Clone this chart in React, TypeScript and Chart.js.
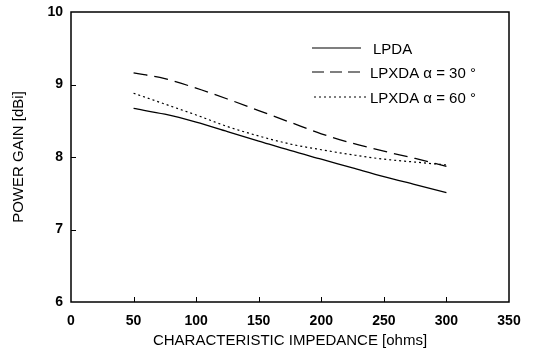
import React, { useEffect, useRef } from "react";
import { Chart, registerables } from "chart.js";

Chart.register(...registerables);

const impedance = [50, 75, 100, 125, 150, 175, 200, 225, 250, 275, 300];
const lpda = [8.67, 8.59, 8.48, 8.35, 8.22, 8.09, 7.97, 7.85, 7.73, 7.62, 7.51];
const lpxda30 = [9.16, 9.08, 8.95, 8.8, 8.64, 8.48, 8.32, 8.19, 8.08, 7.98, 7.87];
const lpxda60 = [8.88, 8.73, 8.58, 8.42, 8.29, 8.18, 8.1, 8.03, 7.97, 7.93, 7.89];

const seriesLabels = ["LPDA", "LPXDA \u03b1 = 30 \u00b0", "LPXDA \u03b1 = 60 \u00b0"];
const xTickMarks = [50, 100, 150, 200, 250, 300];
const yTickMarks = [7, 8, 9];

const FONT = "'Liberation Sans', Arial, Helvetica, sans-serif";

const framePlugin = {
  id: "frameAndLegend",
  afterDraw(chart: any) {
    const { ctx, chartArea } = chart;
    const { left, right, top, bottom } = chartArea;
    const xs = chart.scales.x;
    const ys = chart.scales.y;
    ctx.save();
    ctx.strokeStyle = "#000";
    ctx.lineWidth = 1.5;
    ctx.setLineDash([]);
    ctx.strokeRect(left, top, right - left, bottom - top);
    ctx.lineWidth = 1;
    ctx.beginPath();
    for (const v of xTickMarks) {
      const px = Math.round(xs.getPixelForValue(v)) + 0.5;
      ctx.moveTo(px, bottom);
      ctx.lineTo(px, bottom - 5);
    }
    for (const v of yTickMarks) {
      const py = Math.round(ys.getPixelForValue(v)) + 0.5;
      ctx.moveTo(left, py);
      ctx.lineTo(left + 5, py);
    }
    ctx.stroke();

    // legend
    const dashes = [[], [12, 6], [2, 3]];
    const lineY = [top + 36, top + 60, top + 85];
    const lineX0 = [left + 241, left + 241, left + 243];
    const lineX1 = [left + 290, left + 290, left + 296];
    const textX = [left + 302, left + 299, left + 299];
    ctx.font = `15px ${FONT}`;
    ctx.fillStyle = "#000";
    ctx.textBaseline = "middle";
    ctx.textAlign = "left";
    for (let i = 0; i < 3; i++) {
      ctx.beginPath();
      ctx.setLineDash(dashes[i]);
      ctx.lineWidth = 1.2;
      ctx.moveTo(lineX0[i], lineY[i]);
      ctx.lineTo(lineX1[i], lineY[i]);
      ctx.stroke();
      ctx.fillText(seriesLabels[i], textX[i], lineY[i] + 2);
    }
    ctx.restore();
  },
};

export default function App() {
  const ref = useRef<HTMLCanvasElement>(null);
  useEffect(() => {
    if (!ref.current) return;
    const mk = (arr: number[]) => impedance.map((x, i) => ({ x, y: arr[i] }));
    const chart = new Chart(ref.current, {
      type: "line",
      data: {
        datasets: [
          {
            label: seriesLabels[0],
            data: mk(lpda),
            borderColor: "#000",
            borderWidth: 1.3,
            pointRadius: 0,
            fill: false,
            cubicInterpolationMode: "monotone",
          },
          {
            label: seriesLabels[1],
            data: mk(lpxda30),
            borderColor: "#000",
            borderWidth: 1.3,
            borderDash: [14, 7],
            pointRadius: 0,
            fill: false,
            cubicInterpolationMode: "monotone",
          },
          {
            label: seriesLabels[2],
            data: mk(lpxda60),
            borderColor: "#000",
            borderWidth: 1.2,
            borderDash: [2, 3],
            pointRadius: 0,
            fill: false,
            cubicInterpolationMode: "monotone",
          },
        ],
      },
      options: {
        responsive: false,
        animation: false,
        layout: { padding: { top: 12, right: 25, left: 0, bottom: 0 } },
        plugins: { legend: { display: false }, tooltip: { enabled: false } },
        scales: {
          x: {
            type: "linear",
            min: 0,
            max: 350,
            grid: { display: false, drawTicks: true, tickLength: 8 },
            border: { display: false },
            ticks: {
              stepSize: 50,
              color: "#000",
              padding: 3,
              maxRotation: 0,
              font: { family: FONT, size: 14, weight: "bold" },
            },
            title: {
              display: true,
              text: "CHARACTERISTIC IMPEDANCE [ohms]",
              color: "#000",
              font: { family: FONT, size: 15 },
              padding: { top: 0, bottom: 4 },
            },
            afterFit: (axis: any) => {
              axis.height = 52;
            },
          },
          y: {
            type: "linear",
            min: 6,
            max: 10,
            grid: { display: false, drawTicks: true, tickLength: 8 },
            border: { display: false },
            ticks: {
              stepSize: 1,
              color: "#000",
              padding: 0,
              font: { family: FONT, size: 14, weight: "bold" },
            },
            title: {
              display: true,
              text: "POWER GAIN [dBi]",
              color: "#000",
              font: { family: FONT, size: 15 },
              padding: { top: 10, bottom: 0 },
            },
            afterFit: (axis: any) => {
              axis.width = 71;
            },
          },
        },
      },
      plugins: [framePlugin],
    });
    return () => chart.destroy();
  }, []);
  return (
    <div style={{ position: "absolute", left: 0, top: 0, width: 534, height: 354, background: "#fff" }}>
      <canvas ref={ref} width={534} height={354} style={{ display: "block" }} />
    </div>
  );
}
